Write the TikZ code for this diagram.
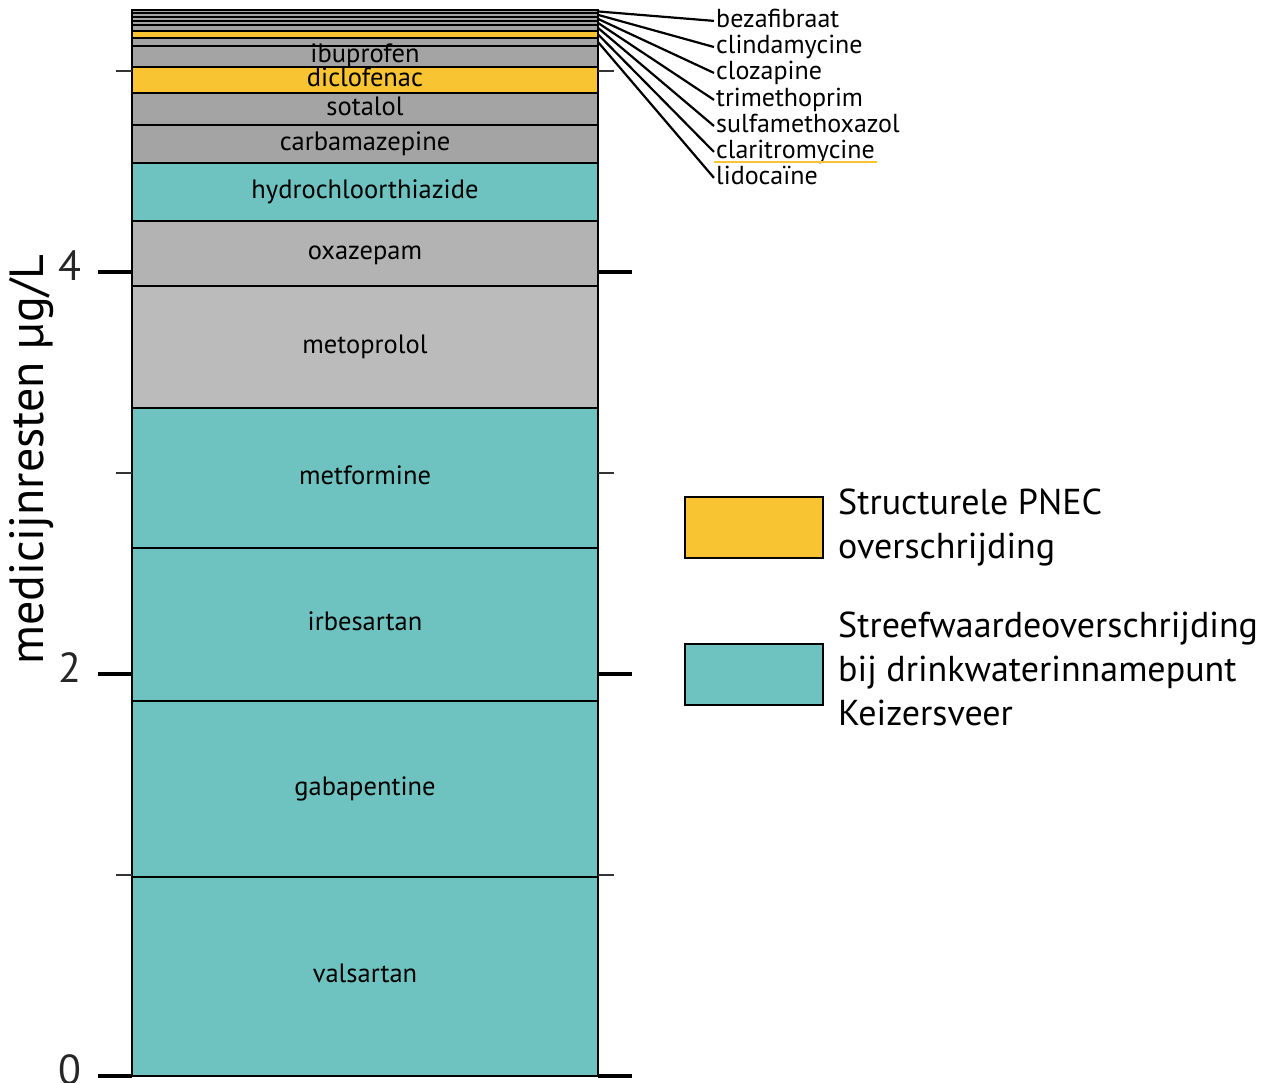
\documentclass[tikz,border=0pt]{standalone}
\usepackage{fontspec}
\setmainfont{PT Sans}
\definecolor{kwcyan}{HTML}{6EC3C1}
\definecolor{pnecgeel}{HTML}{F8C432}
\definecolor{grijsa}{HTML}{A4A4A4}
\definecolor{grijsb}{HTML}{B3B3B3}
\definecolor{grijsc}{HTML}{BBBBBB}
\tikzset{
  seg/.style={draw=black,line width=2.4pt},
  lbl/.style={font=\fontsize{26.5}{30}\selectfont,text height=18pt,text depth=5pt,inner sep=2pt},
  lijstlbl/.style={font=\fontsize{26}{30}\selectfont,text height=18pt,text depth=5pt,inner sep=2pt,anchor=west},
  leider/.style={line width=2.2pt},
  hoofdtik/.style={line width=4pt},
  tik/.style={line width=1.5pt,black!80},
  getal/.style={font=\fontsize{42}{48}\selectfont,text=black!85},
  legvak/.style={draw=black,line width=2.4pt,minimum width=138pt,minimum height=61pt,inner sep=0pt},
  legtekst/.style={font=\fontsize{36}{44}\selectfont,align=left,inner sep=0pt,anchor=west}
}
\begin{document}
\begin{tikzpicture}[x=1pt,y=201pt]
\useasboundingbox (-132,-0.0348) rectangle (1141,5.353);
% kolom
\foreach \lo/\hi/\kl in {0/0.990/kwcyan,0.990/1.866/kwcyan,1.866/2.627/kwcyan,2.627/3.323/kwcyan,
  3.323/3.930/grijsc,3.930/4.254/grijsb,4.254/4.542/kwcyan,4.542/4.731/grijsa,4.731/4.891/grijsa,
  4.891/5.020/pnecgeel,5.020/5.124/grijsa,5.124/5.164/grijsa,5.164/5.199/pnecgeel,5.199/5.229/grijsa,
  5.229/5.249/grijsa,5.249/5.269/grijsa,5.269/5.289/grijsa,5.289/5.303/grijsa}
\filldraw[seg,fill=\kl] (0,\lo) rectangle (466,\hi);
\foreach \naam/\y in {valsartan/0.495,gabapentine/1.428,irbesartan/2.247,metformine/2.975,
  metoprolol/3.627,oxazepam/4.092,hydrochloorthiazide/4.398,carbamazepine/4.637,sotalol/4.811,
  diclofenac/4.956,ibuprofen/5.072}
\node[lbl] (\naam) at (233,\y) {\naam};
% assen
\foreach \v in {0,2,4}{
\draw[hoofdtik] (-34,\v) -- (0,\v);
\draw[hoofdtik] (466,\v) -- (500,\v);
\node[getal] (t\v) at (-62,{\v+0.03}) {\v};
}
\foreach \v in {1,3,5}{
\draw[tik] (-16,\v) -- (0,\v);
\draw[tik] (466,\v) -- (482,\v);
}
\node[rotate=90,font=\fontsize{48}{54}\selectfont] (aslabel) at (-100,3.065) {medicijnresten µg/L};
% kleine stoffen
\foreach \id/\tekst/\yb/\yl in {beza/bezafibraat/5.296/5.249,clinda/clindamycine/5.279/5.119,
  cloza/clozapine/5.259/4.990,trime/trimethoprim/5.239/4.856,sulfa/sulfamethoxazol/5.214/4.726,
  clari/claritromycine/5.182/4.597,lido/lidocaïne/5.144/4.468}{
\coordinate (b\id) at (466,\yb);
\node[lijstlbl] (\id) at (582,\yl) {\tekst};
\draw[leider] (b\id) -- (\id.west);
}
\draw[pnecgeel,line width=2pt] ([yshift=-10pt]clari.west) -- ([yshift=-10pt]clari.east);
% legenda
\node[legvak,fill=pnecgeel] (legpnec) at (622,2.729) {};
\node[legtekst] (legpnectekst) at (706,2.731) {Structurele PNEC\\overschrijding};
\node[legvak,fill=kwcyan] (legkw) at (622,1.997) {};
\node[legtekst] (legkwtekst) at (706,2.025) {Streefwaardeoverschrijding\\bij drinkwaterinnamepunt\\Keizersveer};
\end{tikzpicture}
\end{document}
